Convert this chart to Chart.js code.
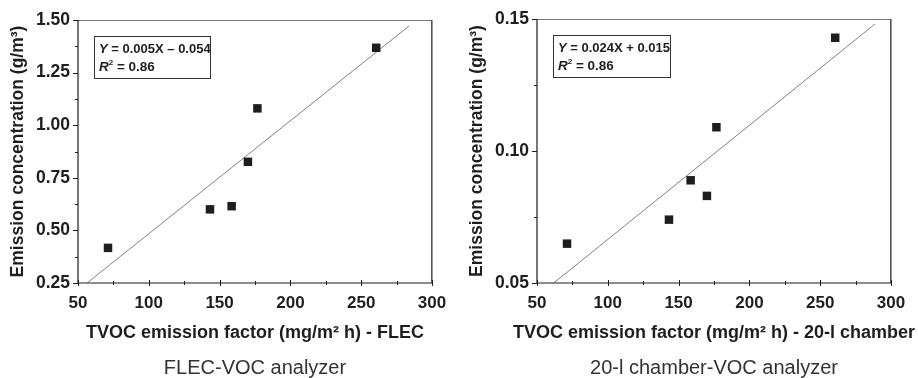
<!DOCTYPE html>
<html><head><meta charset="utf-8">
<script src="https://cdn.jsdelivr.net/npm/chart.js@4/dist/chart.umd.min.js"></script>
<style>
body{margin:0;background:#fff;width:918px;height:378px;overflow:hidden;position:relative;font-family:"Liberation Sans",Arial,sans-serif}
.w{position:absolute;top:0;width:459px;height:378px}
.sub{position:absolute;top:356px;font-size:20px;color:#333;white-space:nowrap;transform:translateX(-50%);line-height:22px}
</style></head><body>
<div class="w" style="left:0"><canvas id="c1" width="459" height="378"></canvas></div>
<div class="w" style="left:459px"><canvas id="c2" width="459" height="378"></canvas></div>
<div class="sub" style="left:255px">FLEC-VOC analyzer</div>
<div class="sub" style="left:714px">20-l chamber-VOC analyzer</div>
<script>
// ---- data ----
const emissionFactor = [71.2, 143.2, 158.5, 170.0, 176.7, 260.6];
const flecConcentration = [0.417, 0.600, 0.615, 0.826, 1.080, 1.368];
const chamberConcentration = [0.0649, 0.0740, 0.0889, 0.0830, 0.1090, 0.1429];
const flecFitX = [56.4, 283.7];
const flecFitY = [0.25, 1.471];
const chamberFitX = [61.8, 288.7];
const chamberFitY = [0.05, 0.1481];
const xTickValues = [50, 100, 150, 200, 250, 300];
const flecYTickValues = [0.25, 0.50, 0.75, 1.00, 1.25, 1.50];
const chamberYTickValues = [0.05, 0.10, 0.15];
const flecEquation = " = 0.005X \u2013 0.054";
const chamberEquation = " = 0.024X + 0.015";
const flecR2 = " = 0.86";
const chamberR2 = " = 0.86";
const flecXTitle = "TVOC emission factor (mg/m\u00B2 h) - FLEC";
const chamberXTitle = "TVOC emission factor (mg/m\u00B2 h) - 20-l chamber";
const yTitle = "Emission concentration (g/m\u00B3)";

const FONT = '"Liberation Sans", Arial, Helvetica, sans-serif';
const INK = '#1e1e1e';

const decorPlugin = {
  id: 'decor',
  beforeDraw(chart) {
    // let the x-axis title run wider than the plot area (as in the reference)
    const xs = chart.scales.x;
    xs.left -= 40; xs.right += 40;
  },
  afterDraw(chart, args, o) {
    const ctx = chart.ctx, a = chart.chartArea;
    const xs = chart.scales.x, ys = chart.scales.y;
    ctx.save();
    // frame
    ctx.lineWidth = 1;
    ctx.strokeStyle = '#777';
    ctx.beginPath(); ctx.moveTo(a.left, a.top + 0.5); ctx.lineTo(a.right, a.top + 0.5); ctx.stroke();
    ctx.strokeStyle = '#555'; ctx.lineWidth = 1.6;
    ctx.beginPath(); ctx.moveTo(a.right - 0.2, a.top); ctx.lineTo(a.right - 0.2, a.bottom); ctx.stroke();
    ctx.strokeStyle = INK; ctx.lineWidth = 1.2;
    ctx.beginPath(); ctx.moveTo(a.left, a.top); ctx.lineTo(a.left, a.bottom); ctx.lineTo(a.right, a.bottom); ctx.stroke();
    // x ticks (major + minor)
    ctx.lineWidth = 1;
    const xStep = (o.xMajor[1] - o.xMajor[0]) / 2;
    for (let v = xs.min; v <= xs.max + 1e-9; v += xStep) {
      const px = Math.round(xs.getPixelForValue(v)) + 0.5;
      const major = o.xMajor.some(m => Math.abs(m - v) < 1e-9);
      ctx.beginPath(); ctx.moveTo(px, a.bottom - (major ? 3 : 2)); ctx.lineTo(px, a.bottom + (major ? 3 : 2)); ctx.stroke();
    }
    const yStep = (o.yMajor[1] - o.yMajor[0]) / 2;
    for (let v = ys.min; v <= ys.max + 1e-9; v += yStep) {
      const py = Math.round(ys.getPixelForValue(v)) + 0.5;
      const major = o.yMajor.some(m => Math.abs(m - v) < 1e-9);
      ctx.beginPath(); ctx.moveTo(a.left - (major ? 5 : 3), py); ctx.lineTo(a.left, py); ctx.stroke();
    }
    // equation box
    const bx = a.left + 16.5, by = a.top + 16.5, bw = o.boxW, bh = 42;
    ctx.strokeStyle = '#333'; ctx.lineWidth = 1;
    ctx.strokeRect(bx, by, bw, bh);
    ctx.fillStyle = INK;
    ctx.textBaseline = 'alphabetic';
    const tx = bx + 4.5, l1 = by + 16, l2 = by + 34;
    ctx.font = 'italic bold 13px ' + FONT;
    ctx.fillText('Y', tx, l1);
    let w = ctx.measureText('Y').width;
    ctx.font = 'bold 13px ' + FONT;
    ctx.fillText(o.equation, tx + w, l1);
    ctx.font = 'italic bold 13.5px ' + FONT;
    ctx.fillText('R', tx, l2);
    w = ctx.measureText('R').width;
    ctx.font = 'bold 8px ' + FONT;
    ctx.fillText('2', tx + w, l2 - 6);
    const w2 = ctx.measureText('2').width;
    ctx.font = 'bold 13.5px ' + FONT;
    ctx.fillText(o.r2, tx + w + w2, l2);
    ctx.restore();
  }
};

function makeChart(id, yVals, fitX, fitY, yMin, yMax, yMajor, xTitle, eq, r2, padTop, boxW) {
  return new Chart(document.getElementById(id), {
    type: 'scatter',
    data: {
      datasets: [
        {
          data: emissionFactor.map((x, i) => ({x, y: yVals[i]})),
          pointStyle: 'rect', pointRadius: 6, pointHoverRadius: 6,
          backgroundColor: INK, borderColor: INK, borderWidth: 0, order: 1
        },
        {
          data: fitX.map((x, i) => ({x, y: fitY[i]})),
          showLine: true, pointRadius: 0, borderColor: '#808080', borderWidth: 1, order: 2
        }
      ]
    },
    options: {
      responsive: false, animation: false, devicePixelRatio: 1,
      layout: {padding: {top: padTop, right: 27, left: 0, bottom: 0}},
      plugins: {
        legend: {display: false}, tooltip: {enabled: false},
        decor: {xMajor: xTickValues, yMajor: yMajor, equation: eq, r2: r2, boxW: boxW}
      },
      scales: {
        x: {
          type: 'linear', min: 50, max: 300,
          afterBuildTicks: s => { s.ticks = xTickValues.map(v => ({value: v})); },
          afterFit: s => { s.height = 95; },
          grid: {display: false, drawTicks: false},
          border: {display: false},
          ticks: {padding: 10, color: INK, font: {family: FONT, size: 17, weight: 'bold'}},
          title: {display: true, text: xTitle, color: INK, padding: {top: 0, bottom: 34},
                  font: {family: FONT, size: 18, weight: 'bold'}}
        },
        y: {
          type: 'linear', min: yMin, max: yMax,
          afterBuildTicks: s => { s.ticks = yMajor.map(v => ({value: v})); },
          afterFit: s => { s.width = 78; },
          grid: {display: false, drawTicks: false},
          border: {display: false},
          ticks: {padding: 8, color: INK, font: {family: FONT, size: 17.5, weight: 'bold'},
                  callback: v => Number(v).toFixed(2)},
          title: {display: true, text: yTitle, color: INK, padding: {top: 8, bottom: 0},
                  font: {family: FONT, size: 17.5, weight: 'bold'}}
        }
      }
    },
    plugins: [decorPlugin]
  });
}

makeChart('c1', flecConcentration, flecFitX, flecFitY, 0.25, 1.5, flecYTickValues,
          flecXTitle, flecEquation, flecR2, 20, 116);
makeChart('c2', chamberConcentration, chamberFitX, chamberFitY, 0.05, 0.15, chamberYTickValues,
          chamberXTitle, chamberEquation, chamberR2, 19, 117);
</script>
</body></html>
